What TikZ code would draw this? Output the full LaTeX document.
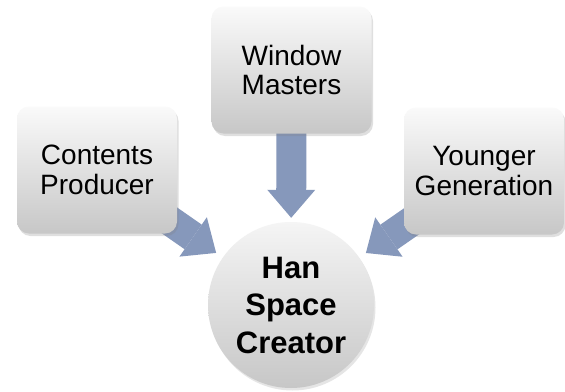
\documentclass[tikz,border=0pt]{standalone}
\usepackage{fontspec}
\setmainfont{Liberation Sans}
\usetikzlibrary{arrows.meta,shadows,backgrounds}
\definecolor{arrowblue}{RGB}{134,152,187}
\tikzset{
  boxnode/.style={rectangle, rounded corners=12pt, minimum width=160pt,
    minimum height=127pt, inner sep=0pt, top color=black!2, bottom color=black!22,
    align=center, text=black, font=\fontsize{28}{29.5}\selectfont,
    drop shadow={shadow xshift=1.5pt, shadow yshift=-2.5pt, opacity=0.25}},
  hubnode/.style={circle, minimum size=166pt, inner sep=0pt,
    top color=black!4, bottom color=black!22, align=center, text=black,
    font=\bfseries\fontsize{31}{37.5}\selectfont,
    drop shadow={shadow xshift=1.5pt, shadow yshift=-2.5pt, opacity=0.2}},
  fatarrow/.style={draw=arrowblue, line width=30pt,
    -{Triangle[width=48pt,length=28pt,line width=0pt]}}
}
\begin{document}
\begin{tikzpicture}[x=1pt,y=-1pt]
\useasboundingbox (0,0) rectangle (565,391);
\node[boxnode] (cp) at (97,170) {Contents\\Producer};
\node[boxnode] (wm) at (291.5,70) {Window\\Masters};
\node[boxnode] (yg) at (484,171) {Younger\\Generation};
\node[hubnode] (hsc) at (291,305) {Han\\Space\\Creator};
\begin{pgfonlayer}{background}
  \fill[white] (0,0) rectangle (565,391);
  \draw[fatarrow, shorten >=8pt] (cp.center) -- (hsc);
  \draw[fatarrow, shorten >=4pt] (wm.center) -- (hsc);
  \draw[fatarrow, shorten >=8pt] (yg.center) -- (hsc);
\end{pgfonlayer}
\end{tikzpicture}
\end{document}
